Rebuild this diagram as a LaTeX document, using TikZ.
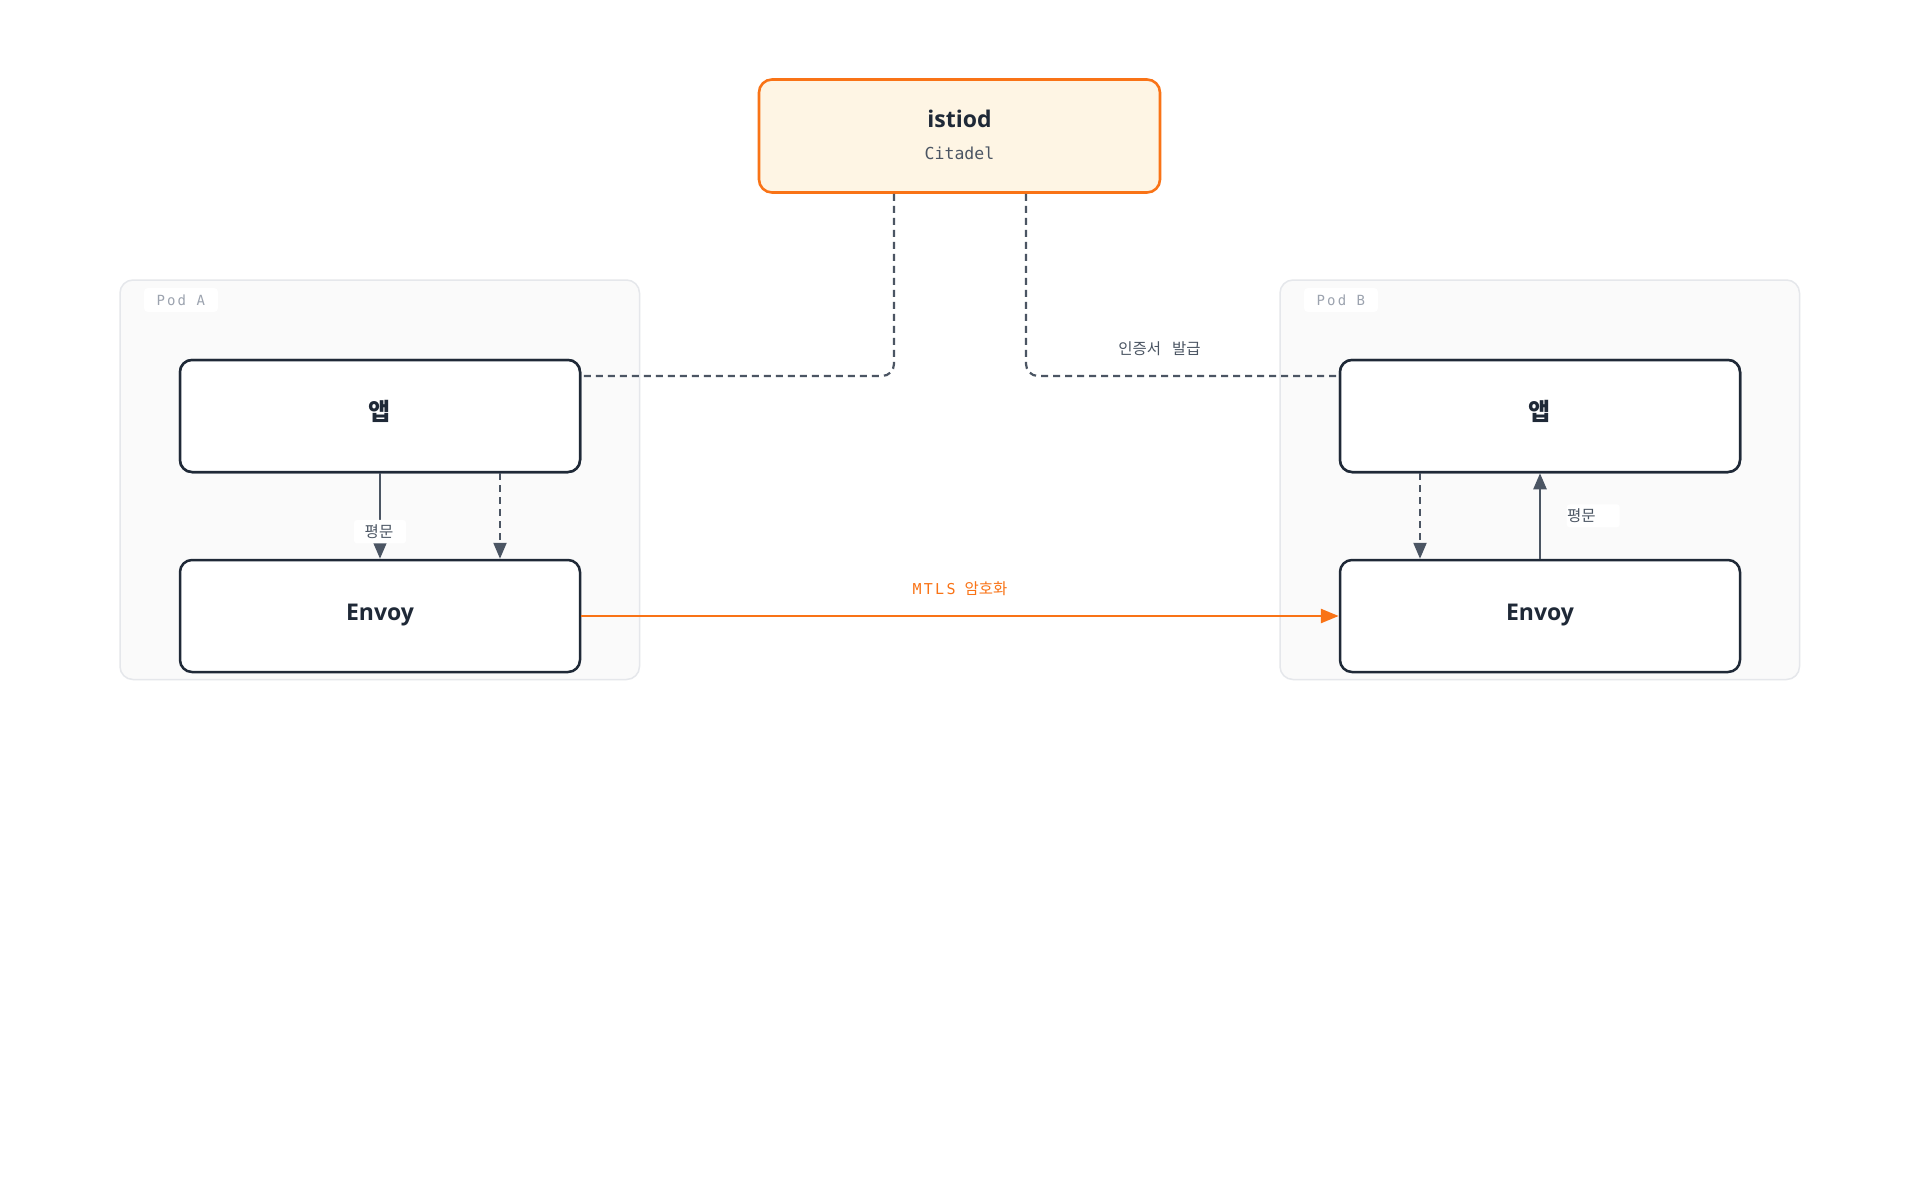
\documentclass[tikz,border=0pt]{standalone}
\usepackage{fontspec}
\setmainfont{Open Sans}
\newfontfamily\krfont{Noto Sans CJK KR}
\newfontfamily\monofont{DejaVu Sans Mono}
\newfontfamily\monols{DejaVu Sans Mono}[LetterSpace=15]
\usetikzlibrary{arrows.meta,calc}
\definecolor{orangeC}{HTML}{F97316}
\definecolor{creamC}{HTML}{FEF5E4}
\definecolor{darkC}{HTML}{1F2937}
\definecolor{grayC}{HTML}{4B5563}
\definecolor{podfill}{HTML}{FAFAFA}
\definecolor{podline}{HTML}{E5E7EB}
\definecolor{podtext}{HTML}{9CA3AF}
\begin{document}
\begin{tikzpicture}[x=1pt,y=-1pt,
  box/.style={draw=darkC, line width=2.5pt, fill=white, rounded corners=12pt,
    minimum width=400pt, minimum height=112pt, inner sep=0pt},
  ibox/.style={draw=orangeC, line width=2.6pt, fill=creamC, rounded corners=13pt,
    minimum width=401pt, minimum height=113pt, inner sep=0pt},
  pod/.style={draw=podline, line width=1.5pt, fill=podfill, rounded corners=13pt,
    minimum width=519.5pt, minimum height=399.5pt, inner sep=0pt},
  podlab/.style={fill=white, rounded corners=4pt, minimum width=74pt, minimum height=24pt, inner sep=0pt},
  podtxt/.style={inner sep=0pt, text=podtext, font=\monols\fontsize{14}{16}\selectfont},
  title/.style={inner sep=0pt, text=darkC, font=\fontsize{23}{27}\selectfont\bfseries},
  ktitle/.style={inner sep=0pt, text=darkC, font=\krfont\fontsize{24}{28}\selectfont\bfseries},
  subt/.style={inner sep=0pt, text=grayC, font=\monofont\fontsize{16.5}{19}\selectfont},
  ktxt/.style={inner sep=0pt, text=grayC, font=\krfont\fontsize{15.5}{18}\selectfont},
  lblbg/.style={fill=white, rounded corners=3pt, inner sep=0pt},
  cert/.style={draw=grayC, line width=2.2pt, dash pattern=on 7pt off 5pt, rounded corners=12pt},
  flow/.style={draw=grayC, line width=2.4pt, -{Triangle[length=16pt,width=13pt]}},
  flowd/.style={draw=grayC, line width=2.2pt, dash pattern=on 7pt off 5pt, -{Triangle[length=16pt,width=13pt]}},
  mtls/.style={draw=orangeC, line width=2.6pt, -{Triangle[length=18pt,width=14pt]}},
]
\fill[white] (0,0) rectangle (1920,1200);
\useasboundingbox (0,0) rectangle (1920,1200);

% pods
\node[pod] (podA) at (379.75,479.75) {};
\node[pod] (podB) at (1539.75,479.75) {};
\node[podlab] (podAbg) at (181,300) {};
\node[podtxt, anchor=west] (podAtxt) at (156.5,300.5) {Pod A};
\node[podlab] (podBbg) at (1341,300) {};
\node[podtxt, anchor=west] (podBtxt) at (1316.5,300.5) {Pod B};

% istiod
\node[ibox] (istiod) at (959.5,136) {};
\node[title] (istiodT) at (959.5,119) {istiod};
\node[subt] (citadel) at (959.5,153.7) {Citadel};

% app / envoy boxes
\node[box] (appA) at (380,416) {};
\node[box] (envA) at (380,616) {};
\node[box] (appB) at (1540,416) {};
\node[box] (envB) at (1540,616) {};

% certificate lines
\draw[cert] ([xshift=-65.5pt]istiod.south) |- ([yshift=40pt]appA.east);
\draw[cert] ([xshift=66.5pt]istiod.south) |- ([yshift=40pt]appB.west);

% redraw boxes on top of line ends
\node[box] at (appA) {};
\node[box] at (appB) {};

\node[ktitle] (appAT) at (380,411) {앱};
\node[title] (envAT) at (380,614.7) {Envoy};
\node[ktitle] (appBT) at (1540,411) {앱};
\node[title] (envBT) at (1540,614.7) {Envoy};

% pod A arrows
\draw[flow] (appA.south) -- (envA.north);
\draw[flowd] ([xshift=120pt]appA.south) -- ([xshift=120pt]envA.north);
% pod B arrows
\draw[flowd] ([xshift=-120pt]appB.south) -- ([xshift=-120pt]envB.north);
\draw[flow] (envB.north) -- (appB.south);
% mtls
\draw[mtls] (envA.east) -- (envB.west);

% labels
\node[lblbg, minimum width=52pt, minimum height=23.5pt] (pAbg) at (380,531.7) {};
\node[ktxt] (pAT) at (379,532) {평문};
\node[lblbg, minimum width=53pt, minimum height=23pt] (pBbg) at (1593.2,515.8) {};
\node[ktxt, anchor=west] (pBT) at (1567,516) {평문};
\node[ktxt] (certT) at (1159.5,348.8) {{\spaceskip=11pt 인증서 발급}};
\node[inner sep=0pt, text=orangeC, font=\krfont\fontsize{15.5}{18}\selectfont] (mtlsT) at (960,589)
  {{\monols\fontsize{15}{17}\selectfont MTLS}\hspace{9pt}암호화};
\end{tikzpicture}
\end{document}
